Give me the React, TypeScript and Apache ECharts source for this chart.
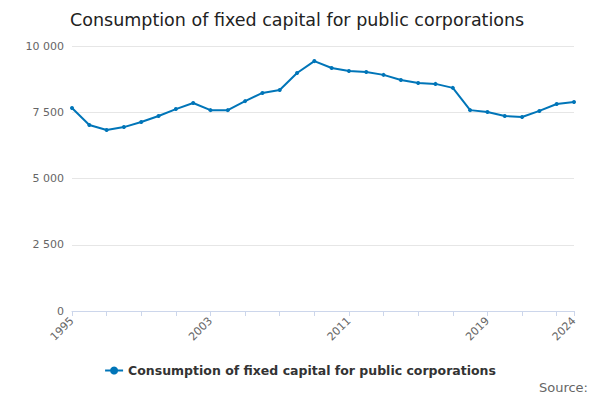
import React, { useEffect, useRef } from "react";
import * as echarts from "echarts";

const years = Array.from({ length: 30 }, (_, i) => String(1995 + i));
const values = [7660, 7020, 6830, 6940, 7130, 7360, 7620, 7850, 7580, 7580, 7920, 8230, 8340, 8980, 9430, 9170, 9060, 9020, 8910, 8720, 8600, 8570, 8420, 7580, 7510, 7360, 7320, 7550, 7810, 7890];
const shownLabels = ["1995", "2003", "2011", "2019", "2024"];
const seriesName = "Consumption of fixed capital for public corporations";

export default function App() {
  const ref = useRef<HTMLDivElement>(null);
  useEffect(() => {
    const chart = echarts.init(ref.current!, null, { renderer: "svg" });
    chart.setOption({
      animation: false,
      textStyle: { fontFamily: "DejaVu Sans" },
      title: { text: seriesName, left: 65, top: 6, textStyle: { fontSize: 17.5, fontWeight: "normal", color: "#222" } },
      grid: { left: 72, right: 26, top: 46, bottom: 89 },
      legend: { bottom: 18, left: "center", itemWidth: 18, itemHeight: 10, textStyle: { fontWeight: "bold", fontSize: 12.5, color: "#333" } },
      graphic: [{ type: "text", right: 12, bottom: 6, style: { text: "Source:", fill: "#666", font: "13px DejaVu Sans" } }],
      xAxis: {
        type: "category", data: years, boundaryGap: false,
        axisLine: { lineStyle: { color: "#ccd6eb" } },
        axisTick: { lineStyle: { color: "#ccd6eb" }, interval: (i: number) => i % 2 === 0 || i === 29 },
        axisLabel: { rotate: 45, color: "#666", fontSize: 11, interval: (i: number, v: string) => shownLabels.includes(v) },
      },
      yAxis: {
        type: "value", min: 0, max: 10000, interval: 2500,
        axisLabel: { color: "#666", fontSize: 11, formatter: (v: number) => v >= 1000 ? String(v).replace(/\B(?=(\d{3})+(?!\d))/g, " ") : String(v) },
        splitLine: { lineStyle: { color: "#e6e6e6" } },
      },
      series: [{ name: seriesName, type: "line", data: values, symbol: "circle", symbolSize: 4, itemStyle: { color: "#0075b8" }, lineStyle: { width: 2, color: "#0075b8" } }],
    });
    return () => chart.dispose();
  }, []);
  return <div ref={ref} style={{ position: "absolute", left: 0, top: 0, width: 600, height: 400 }} />;
}
